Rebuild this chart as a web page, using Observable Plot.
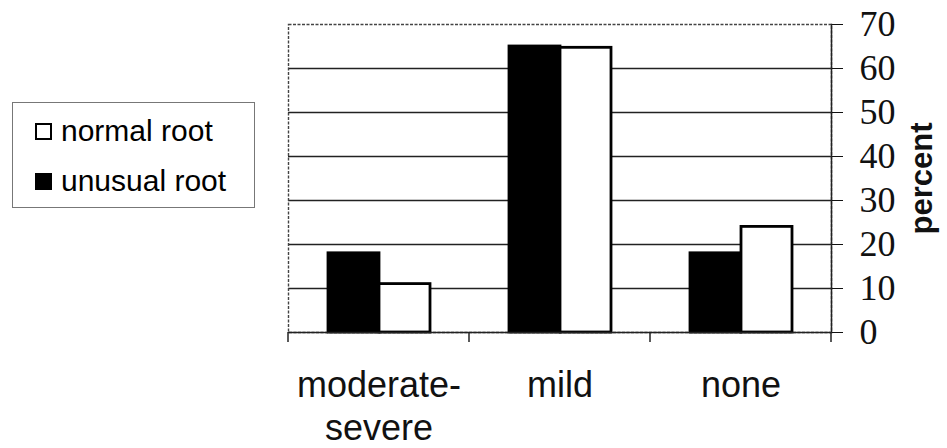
<!DOCTYPE html>
<html>
<head>
<meta charset="utf-8">
<script src="https://cdn.jsdelivr.net/npm/d3@7"></script>
<script src="https://cdn.jsdelivr.net/npm/@observablehq/plot@0.6"></script>
<style>
  html, body { margin: 0; padding: 0; background: #fff; }
  #wrap { position: relative; width: 947px; height: 448px; overflow: hidden; }
  #legend { position: absolute; left: 12px; top: 102px; width: 241px; height: 104px;
    border: 1.5px solid #777; box-sizing: content-box; font-family: "Liberation Sans", Arial, sans-serif;
    font-size: 30px; color: #000; }
  .item { position: absolute; left: 22px; display: flex; align-items: center; height: 32px; }
  .sw { width: 13px; height: 13px; border: 2px solid #000; margin-right: 9px; flex: none; }
  svg g[aria-label="y-axis tick label"] text, svg g[aria-label="y-axis tick label"] { font-family: "Liberation Serif"; font-size: 36px; }
  svg g[aria-label="y-axis label"] text { font-family: "Liberation Sans", Arial, sans-serif; font-size: 31px; font-weight: bold; }
</style>
</head>
<body>
<div id="wrap"><div id="chart"></div><div id="legend"></div></div>
<script>
const categories = ["moderate-severe", "mild", "none"];
const series = ["unusual root", "normal root"];
const unusualValues = [18, 65, 18];
const normalValues = [11, 64.7, 24];
const yTicks = [0, 10, 20, 30, 40, 50, 60, 70];
const seriesColors = ["#000", "#fff"];

const data = [];
categories.forEach((c, i) => {
  data.push({cat: c, series: series[0], value: unusualValues[i]});
  data.push({cat: c, series: series[1], value: normalValues[i]});
});

const plot = Plot.plot({
  width: 947,
  height: 448,
  marginLeft: 287,
  marginRight: 115,
  marginTop: 24,
  marginBottom: 116,
  style: {fontFamily: "Liberation Sans, Arial, sans-serif", color: "#111", background: "#fff"},
  fx: {domain: categories, padding: 0},
  x: {domain: series, paddingInner: 0, paddingOuter: 0.75, axis: null},
  y: {domain: [0, 70]},
  color: {domain: series, range: seriesColors},
  marks: [
    Plot.gridY(yTicks.filter(t => t > 0 && t < 70), {stroke: "#222", strokeOpacity: 1, strokeWidth: 1.3}),
    Plot.frame({facet: "super", stroke: "#444", strokeDasharray: "3 1.5", strokeWidth: 1.4}),
    Plot.frame({facet: "super", anchor: "right", stroke: "#222", strokeWidth: 1.5}),
    Plot.barY(data, {fx: "cat", x: "series", y: "value", fill: "series", stroke: "#000", strokeWidth: 2.8}),
    Plot.ruleY([0], {stroke: "#222", strokeWidth: 1.6}),
    Plot.axisY({anchor: "right", ticks: yTicks, tickSize: 11, tickPadding: 17, fontSize: 36,
      fontFamily: "Liberation Serif", label: "percent", labelAnchor: "center",
      labelArrow: "none", labelOffset: 100}),
    Plot.axisFx({anchor: "bottom", tickSize: 0, tickPadding: 34, fontSize: 36, lineHeight: 1.2,
      label: null, tickFormat: d => d.replace("-", "-\n")})
  ]
});
document.getElementById("chart").appendChild(plot);

// category boundary ticks from the fx scale
const fx = plot.scale("fx");
const ys = plot.scale("y");
const bounds = new Set();
categories.forEach(c => { bounds.add(fx.apply(c)); bounds.add(fx.apply(c) + fx.bandwidth); });
const y0 = ys.apply(0);
const svg = d3.select(plot);
svg.append("g").selectAll("line").data([...bounds]).join("line")
  .attr("x1", d => d).attr("x2", d => d).attr("y1", y0).attr("y2", y0 + 10)
  .attr("stroke", "#222").attr("stroke-width", 1.5);

// legend
const legend = d3.select("#legend");
const legendOrder = ["normal root", "unusual root"];
const colorScale = plot.scale("color");
legendOrder.forEach((s, i) => {
  const it = legend.append("div").attr("class", "item").style("top", (12 + i * 50) + "px");
  it.append("div").attr("class", "sw").style("background", colorScale.apply(s));
  it.append("span").text(s);
});
</script>
</body>
</html>
